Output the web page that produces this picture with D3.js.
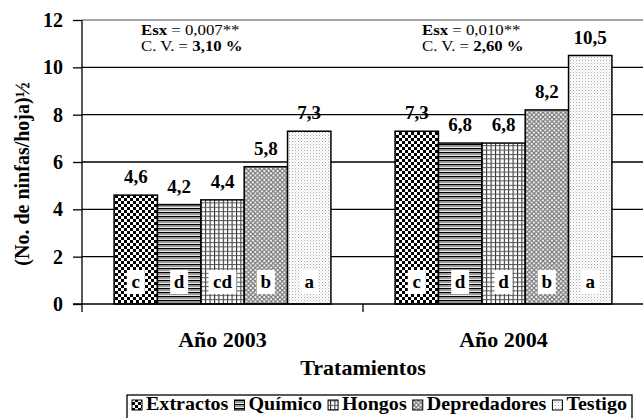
<!DOCTYPE html>
<html>
<head>
<meta charset="utf-8">
<script src="https://cdn.jsdelivr.net/npm/d3@7"></script>
<style>
  body { margin: 0; background: #fff; }
  svg { display: block; font-family: "Liberation Serif", "Times New Roman", serif; font-weight: bold; }
</style>
</head>
<body>
<div id="chart"></div>
<script>
// data
const years = ['Año 2003', 'Año 2004'];
const treatments = ['Extractos', 'Químico', 'Hongos', 'Depredadores', 'Testigo'];
const values2003 = [4.6, 4.2, 4.4, 5.8, 7.3];
const values2004 = [7.3, 6.8, 6.8, 8.2, 10.5];
const letters2003 = ['c', 'd', 'cd', 'b', 'a'];
const letters2004 = ['c', 'd', 'd', 'b', 'a'];
const valueLabels2003 = ['4,6', '4,2', '4,4', '5,8', '7,3'];
const valueLabels2004 = ['7,3', '6,8', '6,8', '8,2', '10,5'];
const stats = [
    { esx: '0,007**', cv: '3,10 %' },
    { esx: '0,010**', cv: '2,60 %' }
];
const yTicks = [0, 2, 4, 6, 8, 10, 12];

const width = 643, height = 418;
const plotLeft = 82, plotRight = 644, plotTop = 20, plotBottom = 304;

const svg = d3.select('#chart').append('svg')
    .attr('width', width)
    .attr('height', height);

// fill patterns
const defs = svg.append('defs');
function pattern(id, w, h) {
    const p = defs.append('pattern')
        .attr('id', id)
        .attr('patternUnits', 'userSpaceOnUse')
        .attr('width', w)
        .attr('height', h);
    p.append('rect').attr('width', w).attr('height', h).attr('fill', '#fff');
    return p;
}
// checkerboard
let p = pattern('pExtractos', 6, 6);
p.append('rect').attr('width', 3).attr('height', 3).attr('fill', '#000');
p.append('rect').attr('x', 3).attr('y', 3).attr('width', 3).attr('height', 3).attr('fill', '#000');
// horizontal lines
p = pattern('pQuimico', 4, 4);
p.append('rect').attr('y', 0).attr('width', 4).attr('height', 1.4).attr('fill', '#000');
p.append('rect').attr('y', 2).attr('width', 4).attr('height', 1.2).attr('fill', '#999');
// grid
p = pattern('pHongos', 4.4, 4.4);
p.append('rect').attr('x', 0).attr('width', 1).attr('height', 4.4).attr('fill', '#222');
p.append('rect').attr('y', 0).attr('width', 4.4).attr('height', 1).attr('fill', '#555');
// diagonal cross
p = pattern('pDepred', 4.5, 4.5);
p.append('path').attr('d', 'M0,0L4.5,4.5M4.5,0L0,4.5').attr('stroke', '#777').attr('stroke-width', 1.2);
// dots
p = pattern('pTestigo', 3, 3);
p.append('rect').attr('x', 0).attr('y', 0).attr('width', 1).attr('height', 1).attr('fill', '#aaa');
p.append('rect').attr('x', 1.5).attr('y', 1.5).attr('width', 1).attr('height', 1).attr('fill', '#ccc');
const fills = ['url(#pExtractos)', 'url(#pQuimico)', 'url(#pHongos)', 'url(#pDepred)', 'url(#pTestigo)'];

const x = d3.scaleBand().domain(years).range([plotLeft, plotRight]);
const xs = d3.scaleBand().domain(treatments).range([0, x.bandwidth()]).paddingOuter(0.74);
const y = d3.scaleLinear().domain([0, 12]).range([plotBottom, plotTop]);

// gridlines
svg.append('g')
    .selectAll('line')
    .data(yTicks.filter(d => d > 0))
    .join('line')
    .attr('x1', plotLeft).attr('x2', width)
    .attr('y1', d => y(d)).attr('y2', d => y(d))
    .attr('stroke', d => d === 12 ? '#888' : '#000')
    .attr('stroke-width', 1.3);

// y axis
const yAxis = svg.append('g')
    .attr('transform', `translate(${plotLeft},0)`)
    .call(d3.axisLeft(y).tickValues(yTicks).tickSize(9).tickPadding(10).tickSizeOuter(0));
yAxis.select('.domain').remove();
yAxis.selectAll('.tick line').attr('stroke', '#000').attr('stroke-width', 1.3);
yAxis.selectAll('.tick text')
    .attr('font-family', '"Liberation Serif", serif')
    .attr('font-weight', 'bold')
    .attr('font-size', 20)
    .attr('fill', '#000');
svg.append('line')
    .attr('x1', plotLeft).attr('x2', plotLeft)
    .attr('y1', plotTop).attr('y2', plotBottom + 8)
    .attr('stroke', '#000').attr('stroke-width', 1.3);

// bars
const groups = [
    { year: years[0], values: values2003, letters: letters2003, labels: valueLabels2003 },
    { year: years[1], values: values2004, letters: letters2004, labels: valueLabels2004 }
];
groups.forEach(g => {
    const gg = svg.append('g').attr('transform', `translate(${x(g.year)},0)`);
    const rows = treatments.map((t, i) => ({ t, i, v: g.values[i], letter: g.letters[i], label: g.labels[i] }));
    gg.selectAll('rect.bar')
        .data(rows)
        .join('rect')
        .attr('class', 'bar')
        .attr('x', d => xs(d.t))
        .attr('y', d => y(d.v))
        .attr('width', xs.bandwidth())
        .attr('height', d => y(0) - y(d.v))
        .attr('fill', d => fills[d.i])
        .attr('stroke', '#000')
        .attr('stroke-width', 1.5);
    gg.selectAll('text.val')
        .data(rows)
        .join('text')
        .attr('class', 'val')
        .attr('x', d => xs(d.t) + xs.bandwidth() / 2)
        .attr('y', d => y(d.v) - 12)
        .attr('text-anchor', 'middle')
        .attr('font-size', 19)
        .text(d => d.label);
    // significance letters on white boxes
    const lg = gg.selectAll('g.letter')
        .data(rows)
        .join('g')
        .attr('class', 'letter')
        .attr('transform', d => `translate(${xs(d.t) + xs.bandwidth() / 2},${y(0) - 22})`);
    lg.append('rect')
        .attr('x', d => -(d.letter.length * 10 + 8) / 2)
        .attr('y', -12)
        .attr('width', d => d.letter.length * 10 + 8)
        .attr('height', 24)
        .attr('fill', '#fff');
    lg.append('text')
        .attr('text-anchor', 'middle')
        .attr('dy', 6)
        .attr('font-size', 19)
        .text(d => d.letter);
});

// x axis line and category ticks
svg.append('line')
    .attr('x1', 73).attr('x2', width)
    .attr('y1', plotBottom).attr('y2', plotBottom)
    .attr('stroke', '#000').attr('stroke-width', 1.5);
svg.append('g')
    .selectAll('line')
    .data(years.slice(1))
    .join('line')
    .attr('x1', d => x(d)).attr('x2', d => x(d))
    .attr('y1', plotBottom).attr('y2', plotBottom + 8)
    .attr('stroke', '#000').attr('stroke-width', 1.3);
svg.append('g')
    .selectAll('text')
    .data(years)
    .join('text')
    .attr('x', d => x(d) + x.bandwidth() / 2)
    .attr('y', 347)
    .attr('text-anchor', 'middle')
    .attr('font-size', 22)
    .text(d => d);

// statistics notes
stats.forEach((s, i) => {
    const sx = x(years[i]) + 59;
    const t1 = svg.append('text')
        .attr('transform', `translate(${sx},35) scale(1.12,1)`)
        .attr('font-size', 15);
    t1.append('tspan').text('Esx ');
    t1.append('tspan').attr('font-weight', 'normal').text('= ' + s.esx);
    const t2 = svg.append('text')
        .attr('transform', `translate(${sx},51) scale(1.12,1)`)
        .attr('font-size', 15);
    t2.append('tspan').attr('font-weight', 'normal').text('C. V. = ');
    t2.append('tspan').text(s.cv);
});

// axis titles
svg.append('text')
    .attr('transform', `translate(29,${(plotTop + plotBottom) / 2 + 12}) rotate(-90)`)
    .attr('text-anchor', 'middle')
    .attr('font-size', 20)
    .text('(No. de ninfas/hoja)½');
svg.append('text')
    .attr('x', x(years[1]))
    .attr('y', 375)
    .attr('text-anchor', 'middle')
    .attr('font-size', 22)
    .text('Tratamientos');

// legend, stretched to fill its box like the original
const legend = svg.append('g');
const legLeft = 127, legRight = 632;
legend.append('rect')
    .attr('x', legLeft).attr('y', 395)
    .attr('width', legRight - legLeft).attr('height', 24)
    .attr('fill', '#fff').attr('stroke', '#000').attr('stroke-width', 1.3);
const legTexts = treatments.map(t => legend.append('text').attr('font-size', 18).text(t));
const textSum = d3.sum(legTexts, t => t.node().getComputedTextLength());
const swW = 10, swGap = 4, itemGap = 6;
const stretch = (legRight - legLeft - 10 - treatments.length * (swW + swGap) - (treatments.length - 1) * itemGap) / textSum;
let lx = legLeft + 5;
treatments.forEach((t, i) => {
    legend.append('rect')
        .attr('x', lx).attr('y', 400)
        .attr('width', swW).attr('height', swW)
        .attr('fill', fills[i]).attr('stroke', '#000').attr('stroke-width', 1);
    const txt = legTexts[i];
    const w = txt.node().getComputedTextLength() * stretch;
    txt.attr('transform', `translate(${lx + swW + swGap},410) scale(${stretch},1)`);
    lx += swW + swGap + w + itemGap;
});
</script>
</body>
</html>
